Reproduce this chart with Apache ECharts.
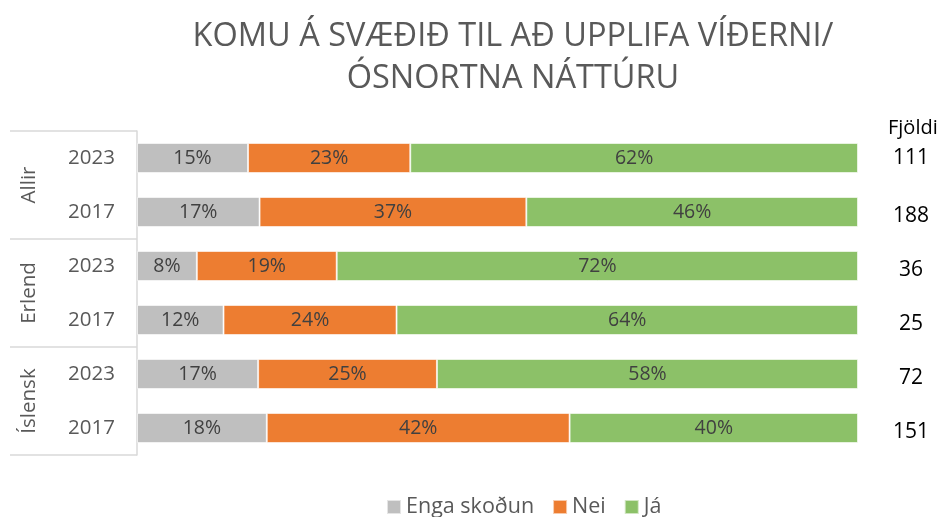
<!DOCTYPE html>
<html>
<head>
<meta charset="utf-8">
<script src="https://cdn.jsdelivr.net/npm/echarts@6/dist/echarts.min.js"></script>
<style>html,body{margin:0;padding:0;background:#fff}#c{width:941px;height:517px}</style>
</head>
<body>
<div id="c"></div>
<script>
const years = ['2023','2017','2023','2017','2023','2017'];
const groups = ['Allir','Erlend','Íslensk'];
const counts = ['111','188','36','25','72','151'];
const engaSkodun = [15.4, 17, 8.3, 12, 16.8, 18];
const nei = [22.5, 37, 19.4, 24, 24.8, 42];
const ja = [62.1, 46, 72.3, 64, 58.4, 40];

const FONT = "'Open Sans', 'Noto Sans', sans-serif";
const chart = echarts.init(document.getElementById('c'));
const lbl = {show:true, position:'inside', color:'#404040', fontSize:19.5, fontFamily:FONT,
  formatter: p => Math.round(p.value) + '%'};
const mk = (name, data, color) => ({
  name, type:'bar', stack:'t', data, barWidth:30, yAxisIndex:0,
  itemStyle:{color, borderColor:'rgba(255,255,255,0.6)', borderWidth:1},
  label:lbl, emphasis:{disabled:true}
});
chart.setOption({
  animation:false,
  title:[
    {text:'KOMU Á SVÆÐIÐ TIL AÐ UPPLIFA VÍÐERNI/\nÓSNORTNA NÁTTÚRU', left:508, top:11, textAlign:'center',
     textStyle:{fontFamily:FONT, fontWeight:'normal', fontSize:32.5, color:'#595959', lineHeight:42}},
    {text:'Fjöldi', left:883, top:113, textStyle:{fontFamily:FONT, fontWeight:'normal', fontSize:20, color:'#000'}}
  ],
  legend:{bottom:-6, left:381, itemWidth:14, itemHeight:14, itemGap:18, icon:'rect',
    textStyle:{fontFamily:FONT, fontSize:21.5, color:'#595959'},
    data:['Enga skoðun','Nei','Já']},
  grid:{left:137, right:83, top:131, bottom:62},
  xAxis:{type:'value', min:0, max:100, show:false},
  yAxis:[
    {type:'category', inverse:true, data:years, axisLine:{show:false}, axisTick:{show:false},
     axisLabel:{margin:22, fontFamily:FONT, fontSize:20.5, color:'#595959'}},
    {type:'category', inverse:true, data:groups, position:'left',
     axisLine:{show:true, lineStyle:{color:'#d9d9d9', width:1.5}},
     axisTick:{show:true, length:127, lineStyle:{color:'#d9d9d9', width:1.5}},
     axisLabel:{margin:97, rotate:90, fontFamily:FONT, fontSize:20.5, color:'#595959'}},
    {type:'category', inverse:true, data:counts, position:'right', axisLine:{show:false}, axisTick:{show:false},
     axisLabel:{margin:53, align:'center', fontFamily:FONT, fontSize:21, color:'#000',
       formatter:(v, i) => i === 0 ? '{a|' + v + '}' : '{b|' + v + '}',
       rich:{a:{fontFamily:FONT, fontSize:21, color:'#000', padding:[0,0,0,0]},
             b:{fontFamily:FONT, fontSize:21, color:'#000', padding:[9,0,0,0]}}}}
  ],
  series:[
    mk('Enga skoðun', engaSkodun, '#BFBFBF'),
    mk('Nei', nei, '#ED7D31'),
    mk('Já', ja, '#8CC168')
  ]
});
</script>
</body>
</html>
